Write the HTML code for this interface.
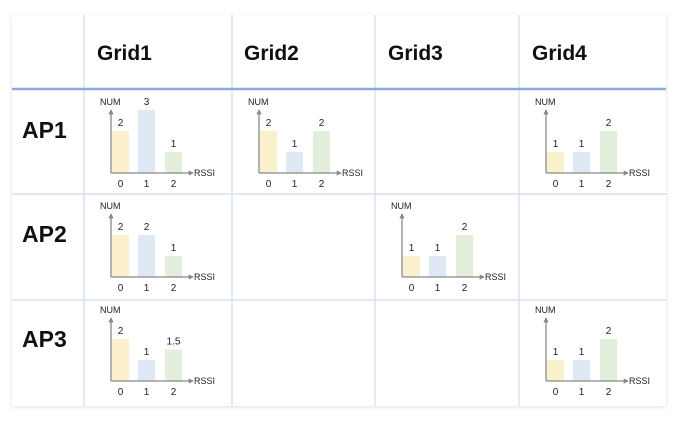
<!DOCTYPE html>
<html><head><meta charset="utf-8"><style>
html,body{margin:0;padding:0;background:#fff;}
svg{display:block;font-family:"Liberation Sans",sans-serif;}
</style></head><body>
<svg id="c" width="681" height="425" viewBox="0 0 681 425">
<defs>
<filter id="sh" x="-5%" y="-5%" width="110%" height="110%"><feDropShadow dx="0" dy="1" stdDeviation="2" flood-color="#000" flood-opacity="0.12"/></filter>
<marker id="ar" viewBox="0 0 6 6" refX="5" refY="3" markerWidth="4" markerHeight="4" orient="auto"><path d="M0,0L6,3L0,6z" fill="#888"/></marker>
</defs>
<rect x="12" y="15" width="654" height="391" fill="#fff" filter="url(#sh)"/>
<g id="grid" stroke="#cfdbee" stroke-width="1.2" fill="none">
<line x1="84" y1="15" x2="84" y2="406"/>
<line x1="232" y1="15" x2="232" y2="406"/>
<line x1="375" y1="15" x2="375" y2="406"/>
<line x1="519" y1="15" x2="519" y2="406"/>
<line x1="12" y1="194" x2="666" y2="194"/>
<line x1="12" y1="300" x2="666" y2="300"/>
</g>
<line x1="12" y1="89" x2="666" y2="89" stroke="#8eaadb" stroke-width="2.5"/>
<g font-weight="bold" font-size="21" fill="#111">
<text x="97" y="60">Grid1</text>
<text x="244" y="60">Grid2</text>
<text x="388" y="60">Grid3</text>
<text x="532" y="60">Grid4</text>
</g>
<g font-weight="bold" font-size="23" fill="#111">
<text x="22" y="138">AP1</text>
<text x="22" y="242">AP2</text>
<text x="22" y="347">AP3</text>
</g>
<g id="charts"></g>
</svg>
<script>
const categories = ["0","1","2"];
const chartRows = [0,0,0,1,1,2,2];
const chartCols = [0,1,3,0,2,0,3];
const chartNames = ["ap1-grid1","ap1-grid2","ap1-grid4","ap2-grid1","ap2-grid3","ap3-grid1","ap3-grid4"];
const values_ap1_grid1 = [2,3,1];
const values_ap1_grid2 = [2,1,2];
const values_ap1_grid4 = [1,1,2];
const values_ap2_grid1 = [2,2,1];
const values_ap2_grid3 = [1,1,2];
const values_ap3_grid1 = [2,1,1.5];
const values_ap3_grid4 = [1,1,2];
const allValues = [values_ap1_grid1,values_ap1_grid2,values_ap1_grid4,values_ap2_grid1,values_ap2_grid3,values_ap3_grid1,values_ap3_grid4];

const colLefts=[84,232,375,519], rowTops=[89,194,300], baseOff=[84,83,81];
const colors=["#fbf0cc","#dfe9f6","#e4efdb"];
const unit=21;
const NS="http://www.w3.org/2000/svg";
const root=document.getElementById('charts');
function mk(tag,attrs,parent){const e=document.createElementNS(NS,tag);for(const k in attrs)e.setAttribute(k,attrs[k]);parent.appendChild(e);return e;}
function fmt(v){return String(v);}
chartRows.forEach((r,i)=>{
  const ax=colLefts[chartCols[i]]+27, by=rowTops[r]+baseOff[r];
  const xScale=j=>ax+1+[0,26,53][j];
  const yScale=v=>by-v*unit;
  const g=mk('g',{},root);
  
  
  allValues[i].forEach((v,j)=>{
    const b=mk('rect',{x:xScale(j),y:yScale(v),width:17,height:by-yScale(v),fill:colors[j]},g);
    
    
    const t=mk('text',{x:xScale(j)+8.5,y:yScale(v)-5,'font-size':10,'text-anchor':'middle',fill:'#222'},g);
    t.textContent=fmt(v);
    
    
    const c=mk('text',{x:xScale(j)+8.5,y:by+14,'font-size':10,'text-anchor':'middle',fill:'#222'},g);
    c.textContent=categories[j];
    
    
  });
  const ya=mk('line',{x1:ax,y1:by,x2:ax,y2:by-63,stroke:'#888','stroke-width':1.3,'marker-end':'url(#ar)'},g);
  
  
  const xa=mk('line',{x1:ax,y1:by,x2:ax+82,y2:by,stroke:'#888','stroke-width':1.3,'marker-end':'url(#ar)'},g);
  
  
  const yt=mk('text',{x:ax-11,y:by-68,'font-size':9,fill:'#222'},g);
  yt.textContent='NUM';
  
  
  const xt=mk('text',{x:ax+83,y:by+3,'font-size':9,fill:'#222'},g);
  xt.textContent='RSSI';
  
  
});
</script>
</body></html>
